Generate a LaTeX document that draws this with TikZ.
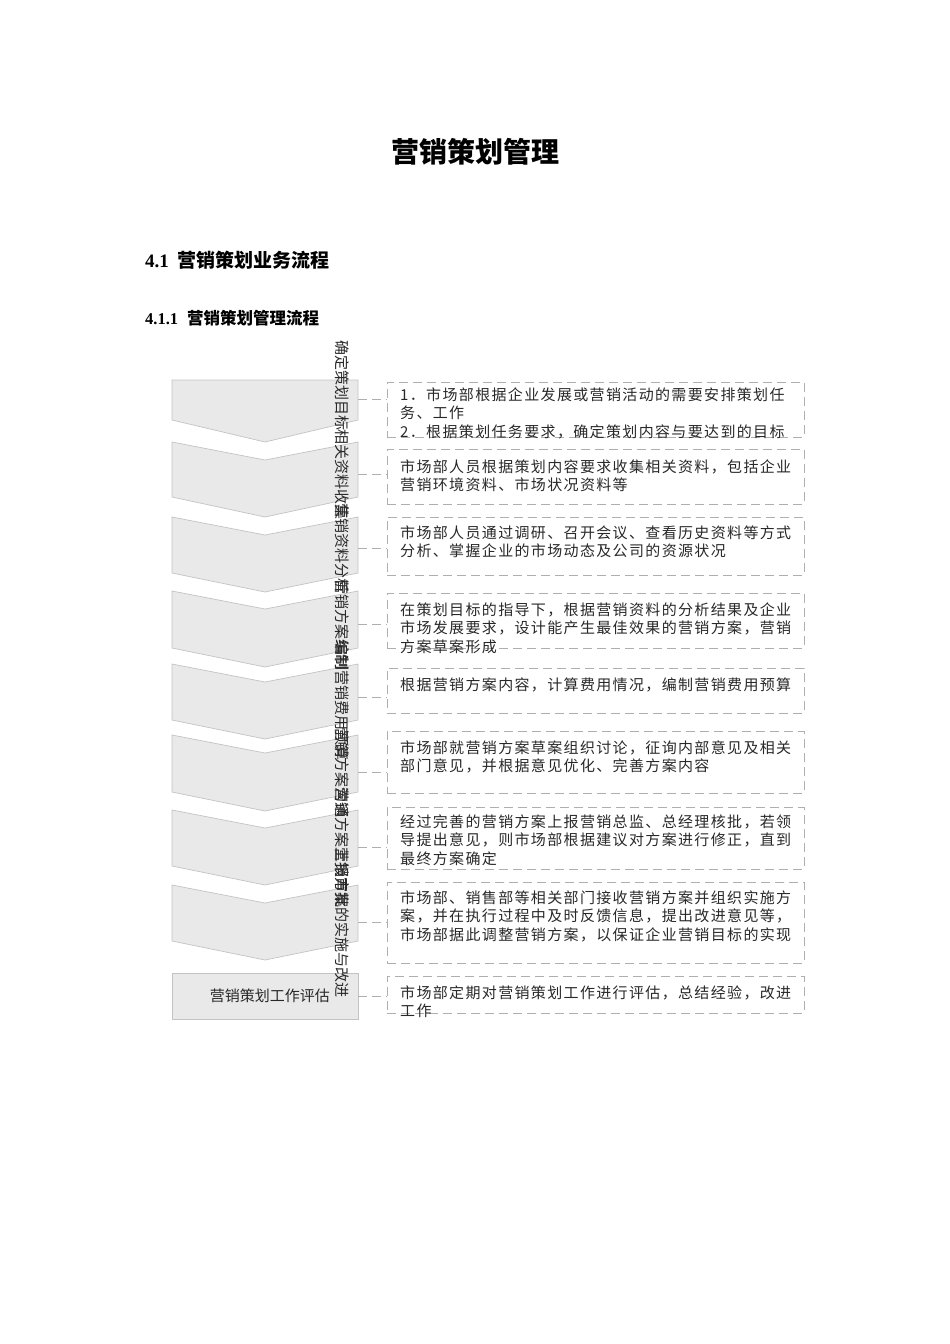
\documentclass[tikz,border=0pt]{standalone}
\usepackage{fontspec}
\setmainfont{Liberation Serif}
\newfontfamily\cjk{Noto Sans CJK SC}
\newfontfamily\cjksp[LetterSpace=9]{Noto Sans CJK SC}
\definecolor{shapefill}{RGB}{233,233,233}
\definecolor{shapeline}{RGB}{195,195,195}
\definecolor{dashline}{RGB}{175,175,175}
\definecolor{txt}{RGB}{40,40,40}
\tikzset{
  chev/.style={fill=shapefill, draw=shapeline, line width=0.7pt},
  dbox/.style={draw=dashline, dash pattern=on 9pt off 5pt, line width=0.7pt, inner sep=0pt, outer sep=0pt, minimum width=417pt},
  conn/.style={draw=dashline, dash pattern=on 9pt off 5pt, line width=0.7pt},
  btext/.style={anchor=north west, inner sep=0pt, align=left, text=txt, font=\cjksp\fontsize{15}{18.5}\selectfont},
  vlabel/.style={rotate=-90, inner sep=0pt, text=txt, font=\cjk\fontsize{15}{15}\selectfont},
  hlabel/.style={anchor=east, inner sep=0pt, text=txt, font=\cjk\fontsize{15}{15}\selectfont}
}
\begin{document}
\begin{tikzpicture}[x=1pt,y=-1pt]
\useasboundingbox (0,0) rectangle (950,1344);
% headings
\node[font=\cjk\bfseries\fontsize{28}{28}\selectfont] (title) at (475,152) {营销策划管理};
\node[anchor=west, inner sep=0pt, font=\bfseries\fontsize{19}{19}\selectfont] (h1) at (145,260) {4.1\hspace{9pt}{\cjk 营销策划业务流程}};
\node[anchor=west, inner sep=0pt, font=\bfseries\fontsize{16.5}{16.5}\selectfont] (h2) at (145,318) {4.1.1\hspace{9pt}{\cjk 营销策划管理流程}};
% chevron shapes
\path[chev] (172,380) -- (358,380) -- (358,420) -- (265,442) -- (172,420) -- cycle;
\path[chev] (172,442) -- (265,460) -- (358,442) -- (358,497) -- (265,517) -- (172,497) -- cycle;
\path[chev] (172,517) -- (265,535) -- (358,517) -- (358,573) -- (265,592) -- (172,573) -- cycle;
\path[chev] (172,591) -- (265,609) -- (358,591) -- (358,648) -- (265,667) -- (172,648) -- cycle;
\path[chev] (172,664) -- (265,682) -- (358,664) -- (358,720) -- (265,739) -- (172,720) -- cycle;
\path[chev] (172,735) -- (265,753) -- (358,735) -- (358,792) -- (265,811) -- (172,792) -- cycle;
\path[chev] (172,810) -- (265,828) -- (358,810) -- (358,866) -- (265,885) -- (172,866) -- cycle;
\path[chev] (172,885) -- (265,903) -- (358,885) -- (358,941) -- (265,960) -- (172,941) -- cycle;
\path[chev] (172,973) rectangle (358,1019);
% shape connection points
\coordinate (s1) at (358,399);
\coordinate (s2) at (358,474);
\coordinate (s3) at (358,548);
\coordinate (s4) at (358,624);
\coordinate (s5) at (358,697);
\coordinate (s6) at (358,772);
\coordinate (s7) at (358,847);
\coordinate (s8) at (358,922);
\coordinate (s9) at (358,996);
% labels
\node[vlabel] (l1) at (342,385) {确定策划目标};
\node[vlabel] (l2) at (342,474) {相关资料收集};
\node[vlabel] (l3) at (342,548) {营销资料分析};
\node[vlabel] (l4) at (342,624) {营销方案编制};
\node[vlabel] (l5) at (342,700) {编制营销费用预算};
\node[vlabel] (l6) at (342,772) {营销方案沟通};
\node[vlabel] (l7) at (342,847) {营销方案上报审批};
\node[vlabel] (l8) at (342,922) {营销方案的实施与改进};
\node[hlabel] (l9) at (330,996) {营销策划工作评估};
% dashed boxes
\node[dbox, minimum height=55pt] (b1) at (595.5,409.5) {};
\node[dbox, minimum height=55pt] (b2) at (595.5,476.5) {};
\node[dbox, minimum height=58pt] (b3) at (595.5,546) {};
\node[dbox, minimum height=55pt] (b4) at (595.5,620.5) {};
\node[dbox, minimum height=45pt] (b5) at (595.5,690.5) {};
\node[dbox, minimum height=62pt] (b6) at (595.5,762) {};
\node[dbox, minimum height=62pt] (b7) at (595.5,838) {};
\node[dbox, minimum height=81pt] (b8) at (595.5,922.5) {};
\node[dbox, minimum height=37pt] (b9) at (595.5,994.5) {};
% connectors
\foreach \i in {1,...,9} { \draw[conn] (s\i) -- (s\i -| b\i.west); }
% box texts
\node[btext] (t1) at (400,387.5) {1．市场部根据企业发展或营销活动的需要安排策划任\\务、工作\\2．根据策划任务要求，确定策划内容与要达到的目标};
\node[btext] (t2) at (400,459.5) {市场部人员根据策划内容要求收集相关资料，包括企业\\营销环境资料、市场状况资料等};
\node[btext] (t3) at (400,525.5) {市场部人员通过调研、召开会议、查看历史资料等方式\\分析、掌握企业的市场动态及公司的资源状况};
\node[btext] (t4) at (400,602.5) {在策划目标的指导下，根据营销资料的分析结果及企业\\市场发展要求，设计能产生最佳效果的营销方案，营销\\方案草案形成};
\node[btext] (t5) at (400,677.5) {根据营销方案内容，计算费用情况，编制营销费用预算};
\node[btext] (t6) at (400,740.5) {市场部就营销方案草案组织讨论，征询内部意见及相关\\部门意见，并根据意见优化、完善方案内容};
\node[btext] (t7) at (400,814.5) {经过完善的营销方案上报营销总监、总经理核批，若领\\导提出意见，则市场部根据建议对方案进行修正，直到\\最终方案确定};
\node[btext] (t8) at (400,890.5) {市场部、销售部等相关部门接收营销方案并组织实施方\\案，并在执行过程中及时反馈信息，提出改进意见等，\\市场部据此调整营销方案，以保证企业营销目标的实现};
\node[btext] (t9) at (400,985.5) {市场部定期对营销策划工作进行评估，总结经验，改进\\工作};
\end{tikzpicture}
\end{document}
